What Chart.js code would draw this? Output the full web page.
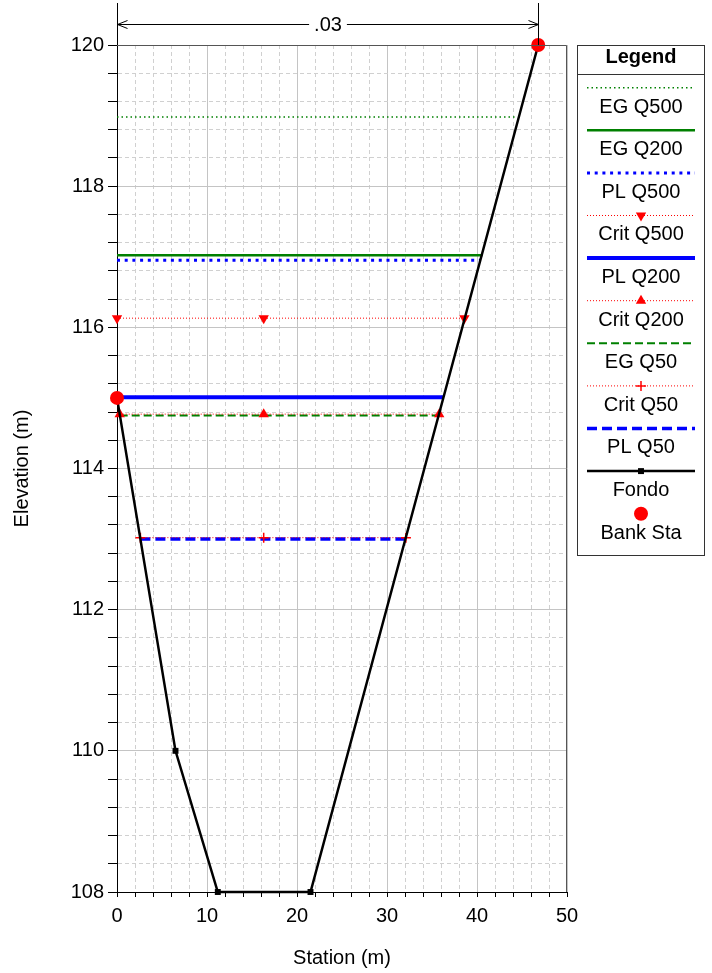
<!DOCTYPE html>
<html>
<head>
<meta charset="utf-8">
<script src="https://cdn.jsdelivr.net/npm/chart.js@4.4.1/dist/chart.umd.min.js"></script>
<style>
  html, body { margin: 0; padding: 0; background: #fff; }
  canvas { display: block; }
</style>
</head>
<body>
<canvas id="xsec" width="712" height="973"></canvas>
<script>
// water surface profiles (legend order)
const profiles = ["EG Q500", "EG Q200", "PL Q500", "Crit Q500", "PL Q200", "Crit Q200", "EG Q50", "Crit Q50", "PL Q50"];
const levels   = [118.98, 117.02, 116.95, 116.13, 115.01, 114.77, 114.75, 113.02, 113.0];
const leftSta  = [0, 0, 0, 0, 0, 0.3, 0.3, 2.6, 2.6];
const rightSta = [44.3, 40.6, 40.4, 38.6, 36.3, 35.8, 35.8, 32.1, 32.1];
const critMarkSta = 16.3;

// ground and bank stations
const fondoSta  = [0, 6.5, 11.2, 21.5, 46.8];
const fondoElev = [115, 110, 108, 108, 120];
const bankSta   = [0, 46.8];
const bankElev  = [115, 120];

const nValue = ".03";
const xLabels = [0, 10, 20, 30, 40, 50];
const yLabels = [108, 110, 112, 114, 116, 118, 120];

const GREEN = "#008000", BLUE = "#0000ff", RED = "#ff0000";
const FONT = "'Liberation Sans', Arial, sans-serif";
const FS = 20;

const styles = {
  "EG Q500":   { color: GREEN, width: 1.5, dash: [1.5, 3] },
  "EG Q200":   { color: GREEN, width: 2.5, dash: [] },
  "PL Q500":   { color: BLUE,  width: 3,   dash: [3, 4.7] },
  "Crit Q500": { color: RED,   width: 1,   dash: [1, 2], marker: "triangle", rot: 180, r: 6 },
  "PL Q200":   { color: BLUE,  width: 4,   dash: [] },
  "Crit Q200": { color: RED,   width: 1,   dash: [1, 2], marker: "triangle", rot: 0, r: 6 },
  "EG Q50":    { color: GREEN, width: 2,   dash: [8, 4] },
  "Crit Q50":  { color: RED,   width: 1,   dash: [1, 2], marker: "cross", r: 5 },
  "PL Q50":    { color: BLUE,  width: 3.5, dash: [10, 5] },
};

const datasets = profiles.map((name, i) => {
  const s = styles[name];
  const pts = [{ x: leftSta[i], y: levels[i] }];
  if (s.marker) pts.push({ x: critMarkSta, y: levels[i] });
  pts.push({ x: rightSta[i], y: levels[i] });
  return {
    label: name,
    data: pts,
    showLine: true,
    borderColor: s.color,
    backgroundColor: s.color,
    borderWidth: s.width,
    borderDash: s.dash,
    pointStyle: s.marker || "circle",
    pointRotation: s.rot || 0,
    pointRadius: s.marker ? s.r : 0,
    pointBorderWidth: s.marker === "cross" ? 1.5 : 0,
    pointBorderColor: s.color,
    pointBackgroundColor: s.color,
    clip: false,
    order: s.marker ? 2 : 3,
  };
});

datasets.push({
  label: "Fondo",
  data: fondoSta.map((x, i) => ({ x: x, y: fondoElev[i] })),
  showLine: true,
  borderColor: "#000",
  backgroundColor: "#000",
  borderWidth: 2.5,
  pointStyle: "rect",
  pointRadius: 4.2,
  pointBorderWidth: 0,
  clip: false,
  order: 1,
});

datasets.push({
  label: "Bank Sta",
  data: bankSta.map((x, i) => ({ x: x, y: bankElev[i] })),
  showLine: false,
  borderColor: RED,
  backgroundColor: RED,
  pointStyle: "circle",
  pointRadius: 7,
  pointBorderWidth: 0,
  clip: false,
  order: 0,
});

function isMajor(v, step) {
  const q = v / step;
  return Math.abs(q - Math.round(q)) < 1e-6;
}

function drawMarker(ctx, ds, x, y) {
  ctx.save();
  ctx.setLineDash([]);
  ctx.fillStyle = ds.pointBackgroundColor || ds.backgroundColor;
  ctx.strokeStyle = ds.pointBorderColor || ds.borderColor;
  const r = ds.pointRadius;
  if (ds.pointStyle === "triangle") {
    const dir = ds.pointRotation === 180 ? -1 : 1;
    ctx.beginPath();
    ctx.moveTo(x, y - dir * r);
    ctx.lineTo(x - r * 0.866, y + dir * r * 0.5);
    ctx.lineTo(x + r * 0.866, y + dir * r * 0.5);
    ctx.closePath();
    ctx.fill();
  } else if (ds.pointStyle === "cross") {
    ctx.lineWidth = 1.5;
    ctx.beginPath();
    ctx.moveTo(x - r, y); ctx.lineTo(x + r, y);
    ctx.moveTo(x, y - r); ctx.lineTo(x, y + r);
    ctx.stroke();
  } else if (ds.pointStyle === "rect") {
    const h = r * Math.SQRT1_2;
    ctx.fillRect(x - h, y - h, 2 * h, 2 * h);
  } else {
    ctx.beginPath();
    ctx.arc(x, y, r, 0, Math.PI * 2);
    ctx.fill();
  }
  ctx.restore();
}

const extras = {
  id: "extras",
  afterDraw(chart) {
    const ctx = chart.ctx, a = chart.chartArea, xs = chart.scales.x;
    ctx.save();

    // frame top and right
    ctx.strokeStyle = "#555";
    ctx.lineWidth = 1;
    ctx.beginPath();
    ctx.moveTo(a.left, a.top + 0.5);
    ctx.lineTo(a.right - 0.5, a.top + 0.5);
    ctx.lineTo(a.right - 0.5, a.bottom);
    ctx.stroke();

    // Manning's n between bank stations
    const x0 = Math.round(xs.getPixelForValue(bankSta[0])) + 0.5;
    const x1 = Math.round(xs.getPixelForValue(bankSta[1])) + 0.5;
    const ya = 24.5;
    ctx.strokeStyle = "#000";
    ctx.beginPath();
    ctx.moveTo(x0, 3); ctx.lineTo(x0, a.top);
    ctx.moveTo(x1, 3); ctx.lineTo(x1, a.top);
    ctx.stroke();
    ctx.font = FS + "px " + FONT;
    ctx.fillStyle = "#000";
    ctx.textAlign = "center";
    ctx.textBaseline = "middle";
    const xm = (x0 + x1) / 2;
    ctx.fillText(nValue, xm, ya + 1);
    const tw = ctx.measureText(nValue).width / 2 + 5;
    ctx.beginPath();
    ctx.moveTo(x0, ya); ctx.lineTo(xm - tw, ya);
    ctx.moveTo(xm + tw, ya); ctx.lineTo(x1, ya);
    ctx.moveTo(x0 + 10, ya - 4); ctx.lineTo(x0, ya); ctx.lineTo(x0 + 10, ya + 4);
    ctx.moveTo(x1 - 10, ya - 4); ctx.lineTo(x1, ya); ctx.lineTo(x1 - 10, ya + 4);
    ctx.stroke();

    // legend box
    const L = 577.5, R = 704.5, T = 45.5, B = 555.5, cx = (L + R) / 2;
    ctx.strokeStyle = "#333";
    ctx.strokeRect(L, T, R - L, B - T);
    ctx.beginPath();
    ctx.moveTo(L, 74.5); ctx.lineTo(R, 74.5);
    ctx.stroke();
    ctx.font = "bold " + FS + "px " + FONT;
    ctx.fillText("Legend", cx, 57.5);
    ctx.font = FS + "px " + FONT;

    const items = chart.data.datasets;
    items.forEach((ds, i) => {
      const yl = 87.7 + i * 42.6;
      const yt = 107 + i * 42.6;
      if (ds.showLine) {
        ctx.save();
        ctx.strokeStyle = ds.borderColor;
        ctx.lineWidth = ds.borderWidth;
        ctx.setLineDash(ds.borderDash || []);
        ctx.beginPath();
        ctx.moveTo(587, yl); ctx.lineTo(695, yl);
        ctx.stroke();
        ctx.restore();
      }
      if (ds.pointRadius > 0) drawMarker(ctx, ds, cx, yl);
      ctx.fillStyle = "#000";
      ctx.fillText(ds.label, cx, yt);
    });
    ctx.restore();
  }
};

new Chart(document.getElementById("xsec"), {
  type: "scatter",
  data: { datasets: datasets },
  plugins: [extras],
  options: {
    responsive: false,
    animation: false,
    layout: { padding: { left: 0, top: 45, right: 145, bottom: 0 } },
    plugins: { legend: { display: false }, tooltip: { enabled: false } },
    scales: {
      x: {
        type: "linear",
        min: 0,
        max: 50,
        afterFit: (s) => { s.height = 81; },
        ticks: {
          stepSize: 2,
          autoSkip: false,
          maxRotation: 0,
          minRotation: 0,
          padding: 7,
          color: "#000",
          font: { family: FONT, size: FS },
          callback: (v) => (xLabels.includes(Math.round(v)) && isMajor(v, 10) ? String(v) : ""),
        },
        grid: {
          color: (c) => (c.tick && isMajor(c.tick.value, 10) ? "#c4c4c4" : "#d0d0d0"),
          tickLength: 5,
          tickColor: "#000",
        },
        border: {
          color: "#000",
          width: 1,
          dash: (c) => (c.tick && !isMajor(c.tick.value, 10) ? [4, 3] : []),
        },
        title: {
          display: true,
          text: "Station (m)",
          color: "#000",
          font: { family: FONT, size: FS },
          padding: { top: 4, bottom: 3 },
        },
      },
      y: {
        type: "linear",
        min: 108,
        max: 120,
        afterFit: (s) => { s.width = 117; },
        ticks: {
          stepSize: 0.4,
          autoSkip: false,
          padding: 4,
          color: "#000",
          font: { family: FONT, size: FS },
          callback: (v) => {
            const r = Math.round(v * 10) / 10;
            return yLabels.includes(r) ? String(r) : "";
          },
        },
        grid: {
          color: (c) => (c.tick && isMajor(c.tick.value, 2) ? "#c4c4c4" : "#d0d0d0"),
          tickLength: 9,
          tickColor: "#000",
        },
        border: {
          color: "#000",
          width: 1,
          dash: (c) => (c.tick && !isMajor(c.tick.value, 2) ? [4, 3] : []),
        },
        title: {
          display: true,
          text: "Elevation (m)",
          color: "#000",
          font: { family: FONT, size: FS },
          padding: { top: 10, bottom: 0 },
        },
      },
    },
  },
});
</script>
</body>
</html>
